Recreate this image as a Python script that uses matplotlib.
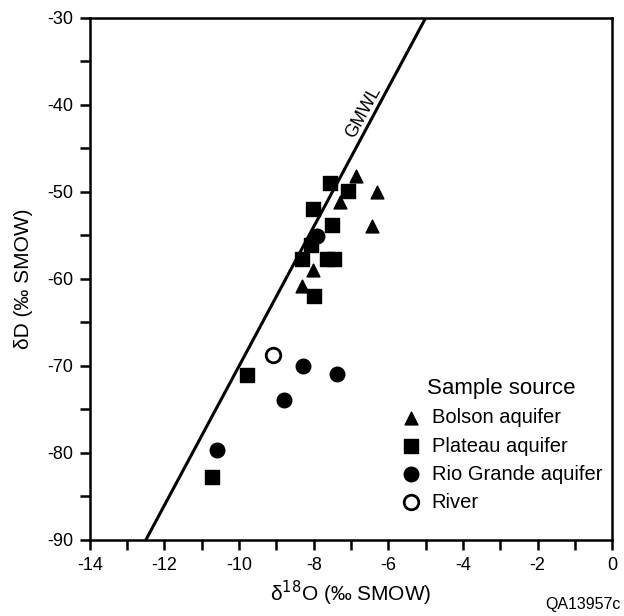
import matplotlib.pyplot as plt
import numpy as np

plt.rcParams['font.family'] = ['Liberation Sans', 'DejaVu Sans']
plt.rcParams['axes.unicode_minus'] = False

# Bolson aquifer (triangles)
bolson_o = [-6.86, -6.31, -7.29, -6.44, -8.03, -8.32]
bolson_d = [-48.2, -50.0, -51.2, -53.9, -59.0, -60.8]
# Plateau aquifer (squares)
plateau_o = [-7.57, -7.08, -8.01, -7.50, -8.08, -8.32, -7.65, -7.46, -8.0, -9.80, -10.72]
plateau_d = [-49.0, -49.9, -52.0, -53.8, -56.1, -57.7, -57.7, -57.7, -62.0, -71.0, -82.8]
# Rio Grande aquifer (filled circles)
rio_o = [-7.91, -8.30, -7.38, -8.80, -10.58]
rio_d = [-55.1, -70.0, -70.9, -73.9, -79.7]
# River (open circle)
river_o = [-9.09]
river_d = [-68.7]

# global meteoric water line  dD = 8*d18O + 10
gmwl_x = np.array([-12.5, -5.0])
gmwl_y = 8 * gmwl_x + 10

fig = plt.figure(figsize=(6.24, 6.16), dpi=100)
ax = fig.add_axes([0.144, 0.1234, 0.837, 0.8474])

ax.plot(gmwl_x, gmwl_y, color='black', lw=2.2, zorder=2)
ax.text(-6.66, -40.8, 'GMWL', rotation=61.5, fontsize=13, ha='center', va='center',
        rotation_mode='anchor')

ax.scatter(bolson_o, bolson_d, marker='^', s=85, color='black', label='Bolson aquifer', zorder=3)
ax.scatter(plateau_o, plateau_d, marker='s', s=110, color='black', label='Plateau aquifer', zorder=3)
ax.scatter(rio_o, rio_d, marker='o', s=110, color='black', label='Rio Grande aquifer', zorder=3)
ax.scatter(river_o, river_d, marker='o', s=110, facecolor='white', edgecolor='black',
           linewidths=2, label='River', zorder=3)

ax.set_xlim(-14, 0)
ax.set_ylim(-90, -30)
ax.set_xticks(np.arange(-14, 1, 2))
ax.set_xticks(np.arange(-14, 1, 1), minor=True)
ax.set_yticks(np.arange(-90, -29, 10))
ax.set_yticks(np.arange(-90, -29, 5), minor=True)
ax.tick_params(which='both', direction='out', length=7, width=1.8, labelsize=13,
               top=False, right=False)
ax.tick_params(axis='x', which='both', pad=5)
ax.tick_params(axis='y', which='both', pad=5)
for s in ax.spines.values():
    s.set_linewidth(1.8)

ax.set_xlabel('δ$^{18}$O (‰ SMOW)', fontsize=15, labelpad=4)
ax.set_ylabel('δD (‰ SMOW)', fontsize=15, labelpad=10)

leg = ax.legend(loc='lower right', bbox_to_anchor=(1.0, 0.035), frameon=False, fontsize=14.5,
                title='Sample source', title_fontsize=16, handletextpad=0.5,
                borderaxespad=0.1, labelspacing=0.45, handlelength=1.0)

fig.text(0.994, 0.006, 'QA13957c', ha='right', va='bottom', fontsize=11.5)

fig.savefig('out.png', dpi=100)
